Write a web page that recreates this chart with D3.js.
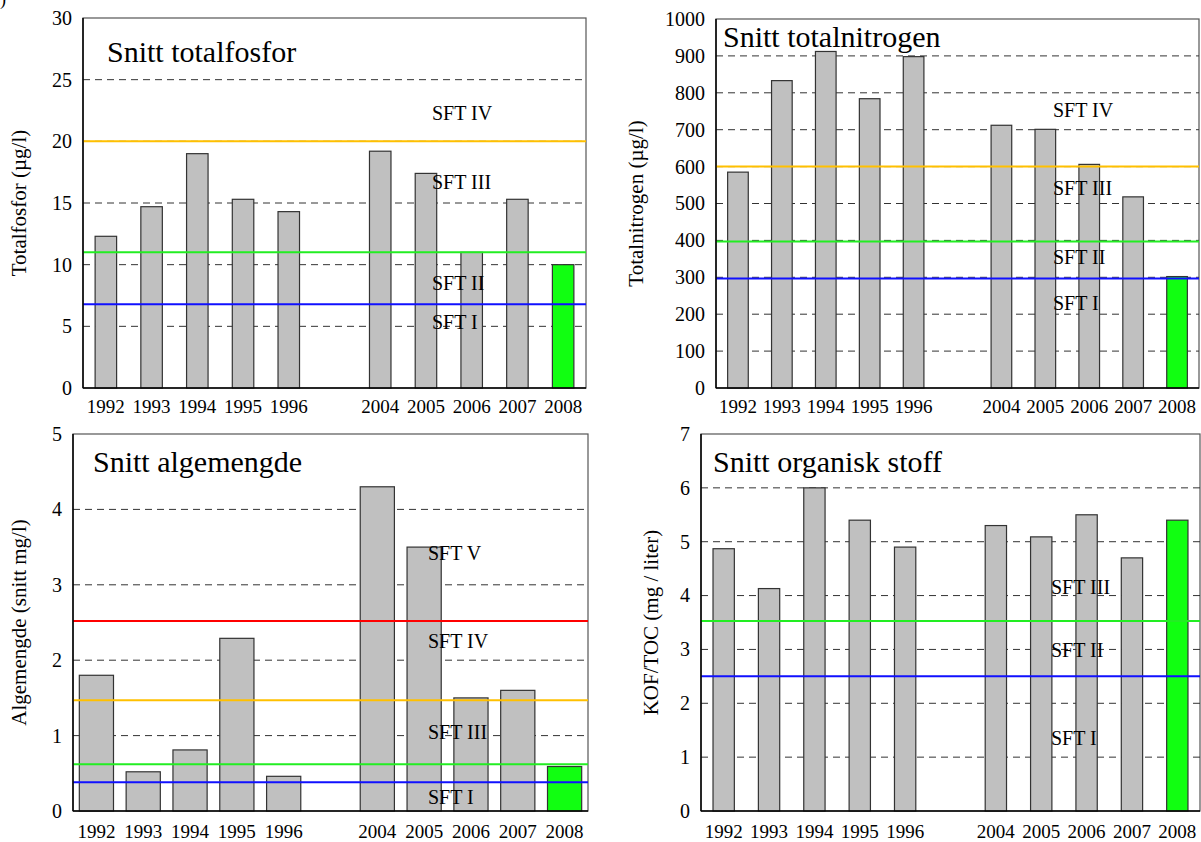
<!DOCTYPE html>
<html lang="en">
<head>
<meta charset="utf-8">
<title>Snitt vannkvalitet 1992-2008</title>
<script src="https://cdn.jsdelivr.net/npm/d3@7/dist/d3.min.js"></script>
<style>
    body { margin: 0; background: #fff; }
    svg text { font-family: "Liberation Serif", "Times New Roman", serif; fill: #000; }
</style>
</head>
<body>
<svg id="chart" width="1201" height="842"></svg>
<script>
    // x slots, one empty slot between 1996 and 2004
    var slots = ["1992", "1993", "1994", "1995", "1996", "gap", "2004", "2005", "2006", "2007", "2008"];
    var years = ["1992", "1993", "1994", "1995", "1996", "2004", "2005", "2006", "2007", "2008"];

    // averages per year
    var fosfor   = [12.3, 14.7, 19.0, 15.3, 14.3, 19.2, 17.4, 11.0, 15.3, 10.0];
    var nitrogen = [585, 833, 912, 784, 898, 712, 701, 606, 518, 302];
    var alge     = [1.80, 0.52, 0.81, 2.29, 0.46, 4.30, 3.50, 1.50, 1.60, 0.59];
    var organisk = [4.87, 4.13, 6.00, 5.40, 4.90, 5.30, 5.09, 5.50, 4.70, 5.40];

    // SFT class limits
    var fosforLimits   = [6.8, 11, 20];
    var nitrogenLimits = [297, 397, 600];
    var algeLimits     = [0.38, 0.62, 1.47, 2.52];
    var organiskLimits = [2.5, 3.53];

    var fosforClasses   = ["SFT I", "SFT II", "SFT III", "SFT IV"];
    var nitrogenClasses = ["SFT I", "SFT II", "SFT III", "SFT IV"];
    var algeClasses     = ["SFT I", "SFT III", "SFT IV", "SFT V"];
    var organiskClasses = ["SFT I", "SFT II", "SFT III"];

    var fosforTicks   = d3.range(0, 31, 5);
    var nitrogenTicks = d3.range(0, 1001, 100);
    var algeTicks     = d3.range(0, 6, 1);
    var organiskTicks = d3.range(0, 8, 1);

    var svg = d3.select("#chart");

    // leftover of the figure label above
    svg.append("text").attr("x", 0).attr("y", 5).style("font-size", "18px").text(")");

    var panels = [
        {title: "Snitt totalfosfor", ylabel: "Totalfosfor (\u00b5g/l)", values: fosfor, ticks: fosforTicks,
         limits: fosforLimits, limitColors: ["#1010ff", "#22ee22", "#ffc000"],
         classes: fosforClasses, classAt: [5.35, 8.5, 16.7, 22.3],
         left: 83, right: 586, top: 18, bottom: 388, barFrac: 0.47,
         titleDx: 24, titleDy: 44, labelX: 19, classDx: 349, xPad: 12},
        {title: "Snitt totalnitrogen", ylabel: "Totalnitrogen (\u00b5g/l)", values: nitrogen, ticks: nitrogenTicks,
         limits: nitrogenLimits, limitColors: ["#1010ff", "#22ee22", "#ffc000"],
         classes: nitrogenClasses, classAt: [230, 355, 542, 753],
         left: 716, right: 1199, top: 19, bottom: 388, barFrac: 0.47,
         titleDx: 7, titleDy: 28, labelX: 636, classDx: 337, xPad: 12},
        {title: "Snitt algemengde", ylabel: "Algemengde (snitt mg/l)", values: alge, ticks: algeTicks,
         limits: algeLimits, limitColors: ["#1010ff", "#22ee22", "#ffc000", "#ff0000"],
         classes: algeClasses, classAt: [0.19, 1.05, 2.25, 3.42],
         left: 73, right: 588, top: 434, bottom: 811, barFrac: 0.73,
         titleDx: 20, titleDy: 38, labelX: 19, classDx: 355, xPad: 14},
        {title: "Snitt organisk stoff", ylabel: "KOF/TOC (mg / liter)", values: organisk, ticks: organiskTicks,
         limits: organiskLimits, limitColors: ["#1010ff", "#22ee22"],
         classes: organiskClasses, classAt: [1.35, 2.99, 4.16],
         left: 701, right: 1200, top: 434, bottom: 811, barFrac: 0.47,
         titleDx: 12, titleDy: 38, labelX: 651, classDx: 350, xPad: 14}
    ];

    panels.forEach(drawPanel);

    function drawPanel(p) {
        var g = svg.append("g");
        var ymax = p.ticks[p.ticks.length - 1];

        var x = d3.scaleBand()
            .domain(slots)
            .range([p.left, p.right]);

        var y = d3.scaleLinear()
            .domain([0, ymax])
            .range([p.bottom, p.top]);

        // frame
        g.append("rect")
            .attr("x", p.left).attr("y", p.top)
            .attr("width", p.right - p.left).attr("height", p.bottom - p.top)
            .attr("fill", "none").attr("stroke", "#555").attr("stroke-width", 1.2);

        // dashed grid
        g.selectAll(".grid")
            .data(p.ticks.filter(function (t) { return t > 0 && t < ymax; }))
            .enter()
            .append("line")
            .attr("x1", p.left).attr("x2", p.right)
            .attr("y1", function (d) { return y(d); })
            .attr("y2", function (d) { return y(d); })
            .attr("stroke", "#333")
            .attr("stroke-width", 1)
            .attr("stroke-dasharray", "7,5");

        // bars
        var bw = x.bandwidth() * p.barFrac;
        g.selectAll(".bar")
            .data(p.values)
            .enter()
            .append("rect")
            .attr("x", function (d, i) { return x(years[i]) + (x.bandwidth() - bw) / 2; })
            .attr("y", function (d) { return y(d); })
            .attr("width", bw)
            .attr("height", function (d) { return y(0) - y(d); })
            .attr("fill", function (d, i) { return years[i] === "2008" ? "#11ff11" : "#c0c0c0"; })
            .attr("stroke", "#333")
            .attr("stroke-width", 1.2);

        // SFT limits
        g.selectAll(".limit")
            .data(p.limits)
            .enter()
            .append("line")
            .attr("x1", p.left).attr("x2", p.right)
            .attr("y1", function (d) { return y(d); })
            .attr("y2", function (d) { return y(d); })
            .attr("stroke", function (d, i) { return p.limitColors[i]; })
            .attr("stroke-width", 2);

        // class names
        g.selectAll(".cls")
            .data(p.classes)
            .enter()
            .append("text")
            .attr("x", p.left + p.classDx)
            .attr("y", function (d, i) { return y(p.classAt[i]); })
            .attr("dy", "0.35em")
            .style("font-size", "20px")
            .text(function (d) { return d; });

        // axes lines
        g.append("line")
            .attr("x1", p.left).attr("x2", p.left)
            .attr("y1", p.top).attr("y2", p.bottom)
            .attr("stroke", "#000").attr("stroke-width", 1.5);
        g.append("line")
            .attr("x1", p.left).attr("x2", p.right)
            .attr("y1", p.bottom).attr("y2", p.bottom)
            .attr("stroke", "#000").attr("stroke-width", 1.5);

        var yAxis = d3.axisLeft(y)
            .tickValues(p.ticks)
            .tickSize(0)
            .tickPadding(11)
            .tickFormat(d3.format("d"));
        var ya = g.append("g")
            .attr("transform", "translate(" + p.left + ",0)")
            .call(yAxis)
            .attr("font-family", null)
            .attr("font-size", null);
        ya.select(".domain").remove();
        ya.selectAll("text")
            .style("font-family", "'Liberation Serif', serif")
            .style("font-size", "20px");

        var xAxis = d3.axisBottom(x)
            .tickSize(0)
            .tickPadding(p.xPad)
            .tickFormat(function (d) { return d === "gap" ? "" : d; });
        var xa = g.append("g")
            .attr("transform", "translate(0," + p.bottom + ")")
            .call(xAxis)
            .attr("font-family", null)
            .attr("font-size", null);
        xa.select(".domain").remove();
        xa.selectAll("text")
            .style("font-family", "'Liberation Serif', serif")
            .style("font-size", "19px");

        // title inside the plot
        g.append("text")
            .attr("x", p.left + p.titleDx)
            .attr("y", p.top + p.titleDy)
            .style("font-size", "30px")
            .text(p.title);

        // y axis title
        g.append("text")
            .attr("text-anchor", "middle")
            .attr("transform", "translate(" + p.labelX + "," + ((p.top + p.bottom) / 2) + ")rotate(-90)")
            .attr("dy", "0.35em")
            .style("font-size", "21px")
            .text(p.ylabel);
    }
</script>
</body>
</html>
